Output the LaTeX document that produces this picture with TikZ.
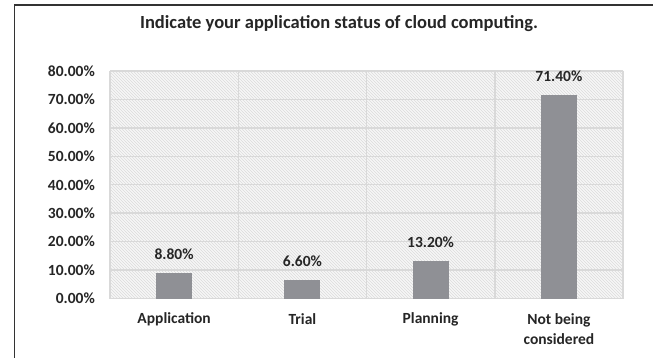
\documentclass[tikz,border=0pt]{standalone}
\usepackage{fontspec}
\setmainfont{Carlito}
\usetikzlibrary{patterns}
\definecolor{txt}{HTML}{262626}
\definecolor{barc}{HTML}{8F9095}
\definecolor{gridc}{HTML}{D9D9D9}
\definecolor{framec}{HTML}{333333}
\begin{document}
\begin{tikzpicture}[x=1pt,y=-1pt,
  lab/.style={font=\bfseries\fontsize{15.5}{18}\selectfont, text=txt, inner sep=0pt},
  ylab/.style={lab, anchor=east},
  gridline/.style={draw=gridc, line width=1.5pt},
  barfill/.style={fill=barc}]
\useasboundingbox (0,0) rectangle (653,358);
\fill[white] (0,0) rectangle (653,358);
% frame
\draw[line width=1.5pt, framec] (14.5,358) -- (14.5,5) -- (653,5);
% title
\node[lab, font=\bfseries\fontsize{18.5}{22}\selectfont] (title) at (339,24) {Indicate your application status of cloud computing.};
% plot area
\fill[gray!6] (110,71) rectangle (623,298.5);
\fill[pattern=north west lines, pattern color=gray!28] (110,71) rectangle (623,298.5);
\foreach \k in {0,...,8} {
  \draw[gridline] (110,{298.5-28.44*\k}) -- (623,{298.5-28.44*\k});
}
\foreach \k in {0,...,4} {
  \draw[gridline] ({110+128.25*\k},71) -- ({110+128.25*\k},298.5);
}
% y labels
\foreach \k/\t in {0/0.00\%,1/10.00\%,2/20.00\%,3/30.00\%,4/40.00\%,5/50.00\%,6/60.00\%,7/70.00\%,8/80.00\%} {
  \node[ylab] (y\k) at (95,{298.5-28.44*\k}) {\t};
}
% bars
\foreach \n/\c/\v/\t in {a/174.1/8.8/8.80\%, b/302.4/6.6/6.60\%, c/430.6/13.2/13.20\%, d/558.9/71.4/71.40\%} {
  \fill[barfill] ({\c-18},298.5) rectangle ({\c+18},{298.5-2.844*\v});
  \node[lab] (v\n) at (\c,{298.5-2.844*\v-19}) {\t};
}
% categories
\node[lab] (ca) at (174.1,319) {Application};
\node[lab] (cb) at (302.4,319) {Trial};
\node[lab] (cc) at (430.6,319) {Planning};
\node[lab, align=center, font=\bfseries\fontsize{15.5}{20}\selectfont] (cd) at (558.9,329) {Not being\\considered};
\end{tikzpicture}
\end{document}
